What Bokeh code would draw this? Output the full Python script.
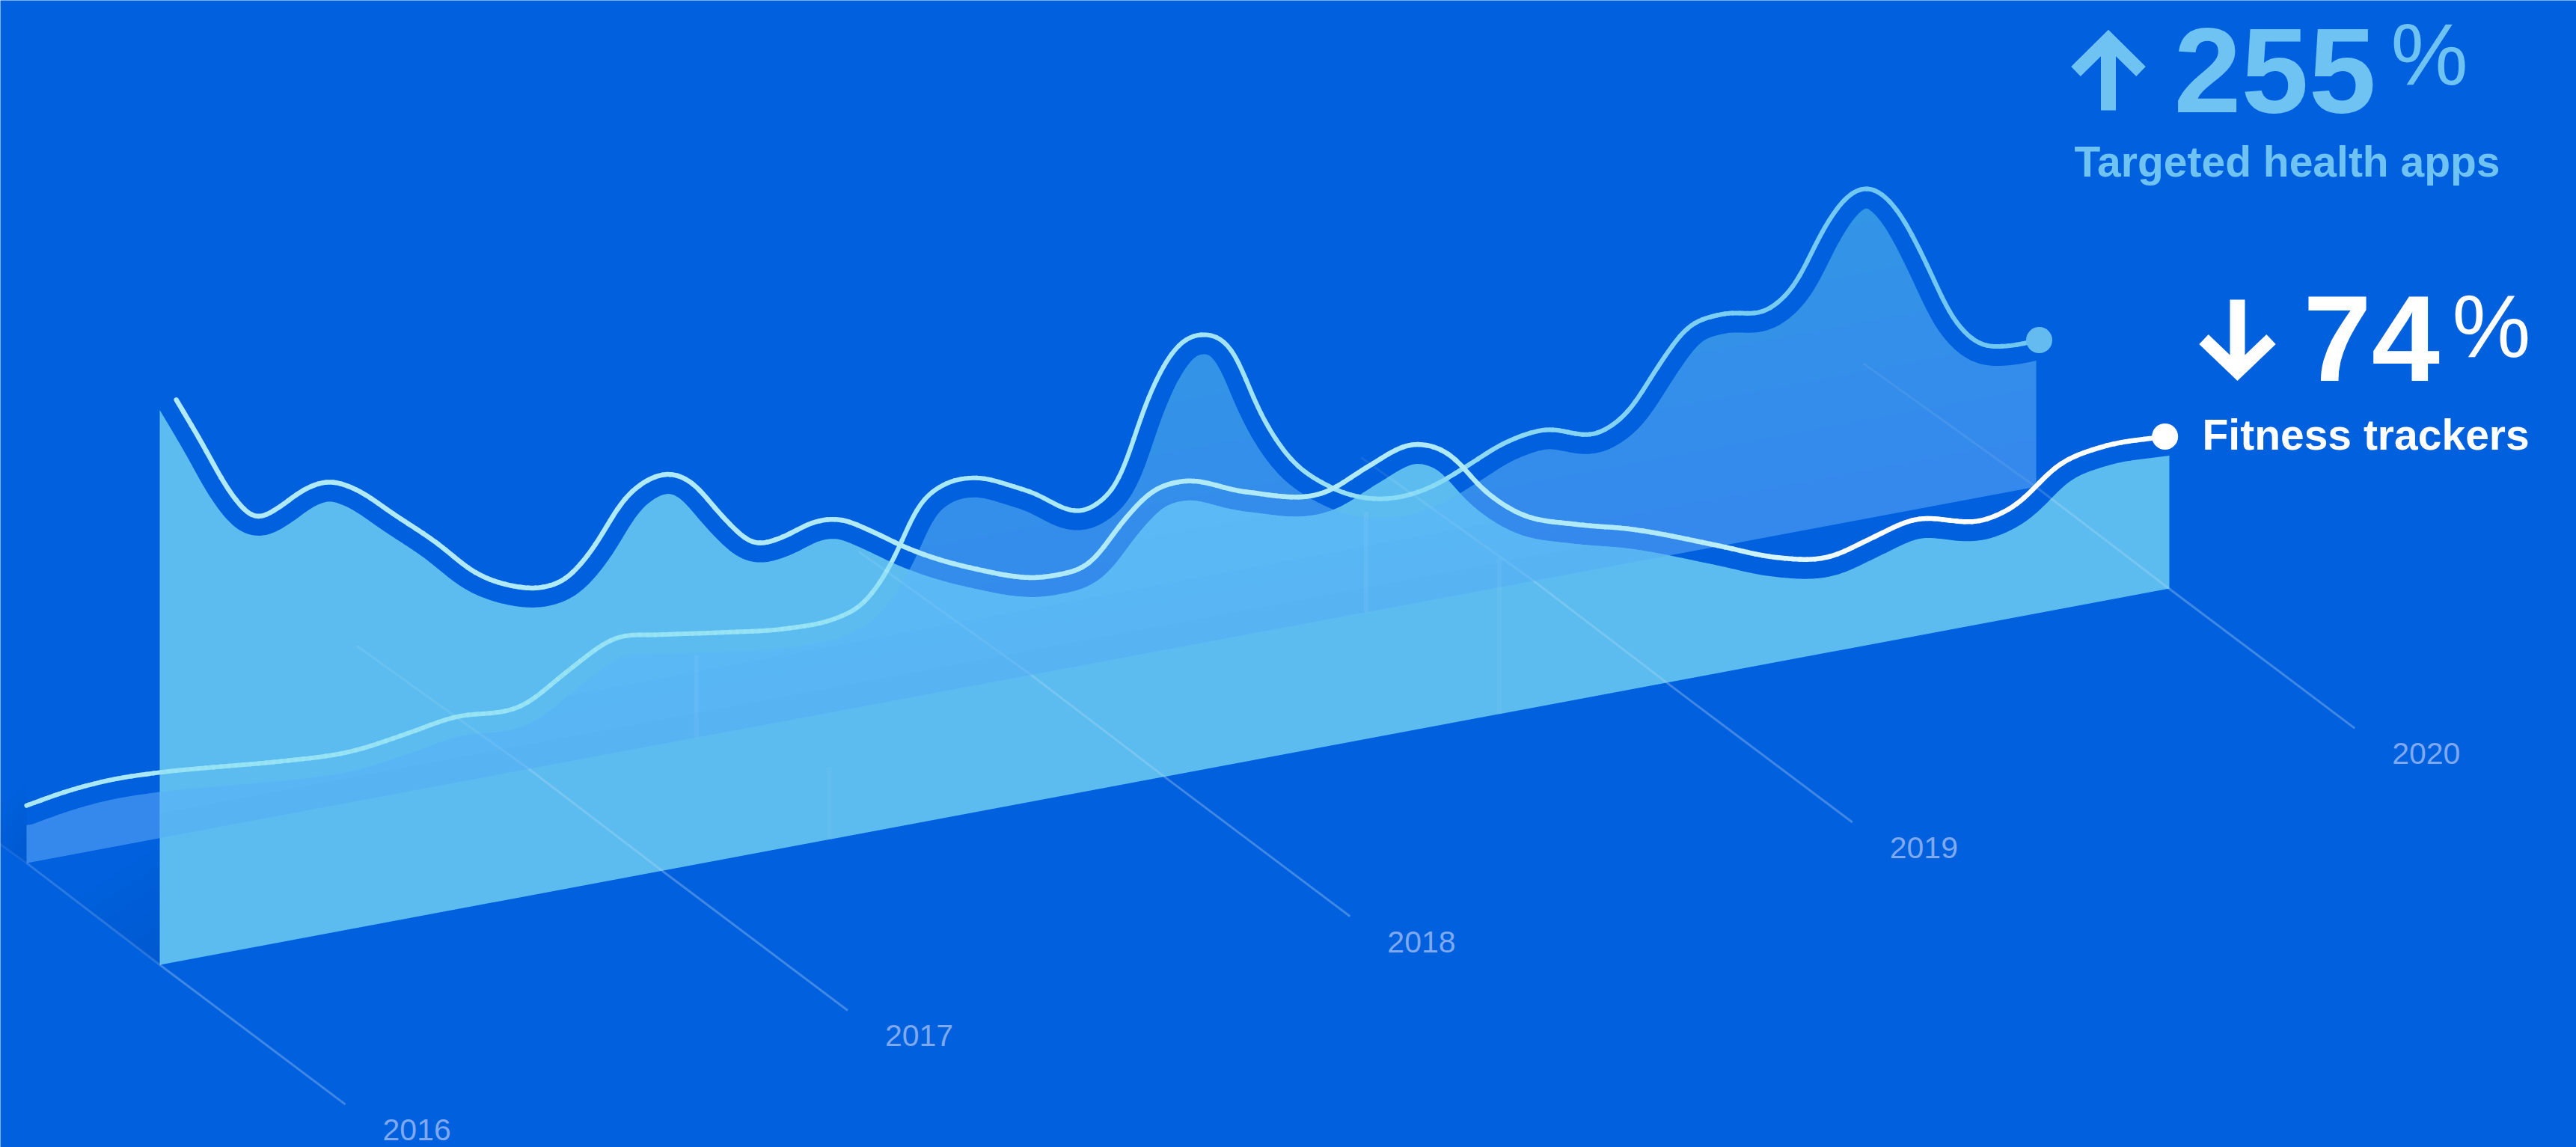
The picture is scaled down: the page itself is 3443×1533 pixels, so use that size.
import numpy as np
from bokeh.core.properties import value
from bokeh.embed import file_html
from bokeh.models import ColumnDataSource, Range1d
from bokeh.plotting import figure
from bokeh.resources import INLINE

# Series: years since 2016 and height above each panel's floor line
fitness_t = [0.033, 0.082, 0.141, 0.190, 0.232, 0.288, 0.337, 0.386, 0.468, 0.549, 0.631, 0.697, 0.762,
             0.811, 0.860, 0.926, 0.975, 1.014, 1.056, 1.122, 1.181, 1.236, 1.302, 1.351, 1.416, 1.485,
             1.616, 1.779, 1.854, 1.920, 1.975, 2.031, 2.162, 2.325, 2.401, 2.499, 2.574, 2.630, 2.705,
             2.816, 2.924, 3.107, 3.215, 3.326, 3.401, 3.486, 3.640, 3.693, 3.781, 3.869, 3.993]
fitness_v = [342, 314, 279, 261, 264, 273, 275, 268, 247, 226, 202, 191, 186,
             189, 203, 231, 240, 241, 234, 208, 189, 189, 195, 194, 183, 169,
             149, 135, 139, 161, 175, 178, 164, 155, 165, 174, 162, 140, 120,
             107, 98, 77, 64, 58, 64, 71, 63, 68, 88, 94, 93]

health_t = [0.000, 0.078, 0.160, 0.265, 0.373, 0.504, 0.651, 0.749, 0.847, 0.994, 1.076, 1.174, 1.256,
            1.387, 1.518, 1.617, 1.663, 1.728, 1.771, 1.826, 1.879, 1.990, 2.121, 2.177, 2.229, 2.285,
            2.341, 2.406, 2.449, 2.504, 2.592, 2.700, 2.798, 2.864, 2.939, 3.018, 3.136, 3.191, 3.247,
            3.303, 3.375, 3.473, 3.519, 3.581, 3.627, 3.669, 3.725, 3.777, 3.833, 3.885, 3.941, 4.006]
health_v = [35, 39, 41, 40, 37, 33, 31, 35, 40, 40, 55, 70, 67,
            61, 56, 57, 62, 87, 114, 126, 127, 113, 95, 110, 153, 182,
            188, 172, 138, 107, 81, 67, 69, 77, 87, 91, 83, 93, 116,
            136, 141, 139, 150, 183, 199, 201, 184, 152, 113, 94, 89, 89]

year_labels = ["2016", "2017", "2018", "2019", "2020"]
divider_t = [4 / 3, 8 / 3]
fitness_divider_v = [44, 95]
health_divider_v = [50, 61]

# Oblique projection shared by both panels
YEAR_DX, YEAR_DY, UNIT = 671.4, -125.7, 2.1958
FRONT = (213.0, 1289.0)
BACK = (35.0, 1153.0)
DEPTH = (113.0, 85.0)
GAP = 26.0

BG = "#0060DD"


def project(origin, t, v=0.0):
    t, v = np.asarray(t, float), np.asarray(v, float)
    return origin[0] + t * YEAR_DX, origin[1] + t * YEAR_DY - v * UNIT


def smooth(x, y, n=12, sigma=10.0, step=2.0):
    # Cubic Hermite path through the read points, eased with a small Gaussian
    x, y = np.asarray(x, float), np.asarray(y, float)
    h = np.diff(x)
    s = np.diff(y) / h
    m = np.zeros_like(x)
    m[1:-1] = (s[:-1] * h[1:] + s[1:] * h[:-1]) / (h[:-1] + h[1:])
    m[0], m[-1] = s[0], s[-1]
    xs, ys = [], []
    for i in range(len(h)):
        u = np.linspace(0, 1, n, endpoint=False)
        xs.append(x[i] + u * h[i])
        ys.append((2*u**3 - 3*u**2 + 1) * y[i] + (u**3 - 2*u**2 + u) * h[i] * m[i]
                  + (-2*u**3 + 3*u**2) * y[i + 1] + (u**3 - u**2) * h[i] * m[i + 1])
    dx = np.append(np.concatenate(xs), x[-1])
    dy = np.append(np.concatenate(ys), y[-1])
    gx = np.arange(x[0], x[-1] + step / 2, step)
    gy = np.interp(gx, dx, dy)
    r = int(3 * sigma / step)
    kern = np.exp(-0.5 * (np.arange(-r, r + 1) * step / sigma) ** 2)
    kern /= kern.sum()
    left = gy[0] + (gy[0] - gy[r:0:-1])
    right = gy[-1] + (gy[-1] - gy[-2:-r - 2:-1])
    return gx, np.convolve(np.concatenate([left, gy, right]), kern, mode="valid")


def lower_edge(lx, ly, gx, r):
    # Lower edge of the gap left under a curve: a disc of radius r swept along it
    out = np.zeros_like(gx)
    for i, g in enumerate(gx):
        d = np.abs(lx - g)
        mask = d < r
        out[i] = np.max(ly[mask] + np.sqrt(r**2 - d[mask]**2)) if mask.any() else np.interp(g, lx, ly) + r
    return out


def mix(c0, c1, f):
    a = np.array(c0) + (np.array(c1) - np.array(c0)) * f
    return "#%02x%02x%02x" % tuple(int(round(q)) for q in a)


def pieces(x, y, size=5):
    return ([x[i:i + size + 1].tolist() for i in range(0, len(x) - 1, size)],
            [y[i:i + size + 1].tolist() for i in range(0, len(y) - 1, size)])


p = figure(width=3443, height=1533, output_backend="svg", toolbar_location=None,
           x_range=Range1d(0, 3443), y_range=Range1d(1533, 0),
           x_axis_location=None, y_axis_location=None,
           background_fill_color=BG, border_fill_color=BG, outline_line_color=None, min_border=0)
p.grid.visible = False

# Soft floor shadows in the corner behind each panel's left edge
for origin, wide, tall in ((FRONT, 115, 160), (BACK, 60, 110)):
    ox, oy = origin
    for k in range(1, 7):
        f = k / 6
        p.patch([ox, ox, ox - wide * f], [oy, oy - tall * f, oy - wide * f * DEPTH[1] / DEPTH[0]],
                fill_color="#003C99", fill_alpha=0.03, line_color=None)

# Back panel: Targeted health apps
hx, hy = project(BACK, health_t, health_v)
hlx, hly = smooth(hx, hy)
back_grid = np.arange(BACK[0], BACK[0] + 4 * YEAR_DX + 0.5, 2.0)
back_top = lower_edge(hlx, hly, back_grid, GAP)
back_floor = BACK[1] + (back_grid - BACK[0]) / YEAR_DX * YEAR_DY
p.varea(back_grid, back_top, back_floor, fill_color="#3689EC")
for level in (30, 60, 90, 120, 150, 180):
    p.varea(back_grid, back_top, np.maximum(back_top, back_floor - level * UNIT),
            fill_color="#3CC8F0", fill_alpha=0.04)

bd_x, bd_y0 = project(BACK, divider_t)
_, bd_y1 = project(BACK, divider_t, health_divider_v)

# Health line, pale on the left and deeper towards its end
seg_x, seg_y = pieces(hlx, hly)
seg_c = [mix((170, 232, 246), (112, 200, 243), min(1, max(0, (xs[0] - 1500) / 1000))) for xs in seg_x]
health_source = ColumnDataSource(dict(x=seg_x, y=seg_y, c=seg_c))
p.multi_line(xs="x", ys="y", line_color="c", line_width=6, line_cap="round", line_join="round",
             source=health_source)

# Front panel: Fitness trackers
fx, fy = project(FRONT, fitness_t, fitness_v)
flx, fly = smooth(fx, fy)
front_grid = np.arange(FRONT[0], FRONT[0] + 4 * YEAR_DX + 0.5, 2.0)
front_top = lower_edge(flx, fly, front_grid, GAP)
front_floor = FRONT[1] + (front_grid - FRONT[0]) / YEAR_DX * YEAR_DY
p.varea(front_grid, front_top, front_floor, fill_color="#7CDBF4", fill_alpha=0.75)

# Where the two panels overlap the tint runs bluer and brightens upwards
shared = front_grid[front_grid <= back_grid[-1]]
shared_top = np.maximum(np.interp(shared, front_grid, front_top), np.interp(shared, back_grid, back_top))
shared_floor = np.interp(shared, back_grid, back_floor)
lower = np.minimum(shared_top, shared_floor)
p.varea(shared, lower, shared_floor, fill_color="#48A4F4", fill_alpha=0.55)
for level in (15, 40, 70, 100):
    p.varea(shared, lower, np.maximum(lower, shared_floor - level * UNIT), fill_color="#6ED4FF", fill_alpha=0.085)

p.segment(bd_x, bd_y0, bd_x, bd_y1, line_color="#FFFFFF", line_alpha=0.06, line_width=6)
fd_x, fd_y0 = project(FRONT, divider_t)
_, fd_y1 = project(FRONT, divider_t, fitness_divider_v)
p.segment(fd_x, fd_y0, fd_x, fd_y1, line_color="#FFFFFF", line_alpha=0.04, line_width=6)

# The health line stays readable through the front panel
p.multi_line(xs="x", ys="y", line_color="c", line_alpha=0.3, line_width=6, line_cap="round", line_join="round",
             source=health_source)

# Fitness line, turning white over its last stretch
seg_x, seg_y = pieces(flx, fly)
seg_c = [mix((176, 234, 248), (255, 255, 255), min(1, max(0, (xs[0] - 2250) / 250))) for xs in seg_x]
p.multi_line(xs="x", ys="y", line_color="c", line_width=6.5, line_cap="round", line_join="round",
             source=ColumnDataSource(dict(x=seg_x, y=seg_y, c=seg_c)))

# Depth lines, one per year, with the label just past the end of each
ticks = np.arange(len(year_labels), dtype=float)
tx, ty = project(FRONT, ticks)
bx, by = project(BACK, ticks)
for x0, y0, x1, y1 in zip(tx, ty, bx, by):
    far_x, far_y = x0 - 186 * UNIT, y0 - 137 * UNIT
    near_x, near_y = x0 + DEPTH[0] * UNIT, y0 + DEPTH[1] * UNIT
    p.line([far_x, x1], [far_y, y1], line_color="#FFFFFF", line_alpha=0.08, line_width=3)
    p.line([x1, x0], [y1, y0], line_color="#FFFFFF", line_alpha=0.16, line_width=3)
    p.line([x0, near_x], [y0, near_y], line_color="#FFFFFF", line_alpha=0.25, line_width=3)
p.text(tx + 156.5 * UNIT, ty + 100.5 * UNIT, text=year_labels, text_color="#7EA9EE",
       text_font=value("Liberation Sans"), text_font_size="41px",
       text_align="center", text_baseline="middle")

# End markers
p.scatter([hlx[-1]], [hly[-1]], size=35, marker="circle", fill_color="#63BBF0", line_color=None)
p.scatter([flx[-1]], [fly[-1]], size=35, marker="circle", fill_color="#FFFFFF", line_color=None)

# Call-outs
SKY = "#6FC3F3"
p.line([2774, 2817.5, 2861], [95, 52, 95], line_color=SKY, line_width=18, line_join="miter")
p.line([2817.5, 2817.5], [58, 147], line_color=SKY, line_width=20)
p.line([2945, 2990, 3035], [453, 496, 453], line_color="#FFFFFF", line_width=18, line_join="miter")
p.line([2990, 2990], [400, 490], line_color="#FFFFFF", line_width=20)

FONT = value("Liberation Sans")
labels = [
    (2905, 93, "255", SKY, "bold", "162px"),
    (3195, 72, "%", SKY, "normal", "116px"),
    (2772, 215, "Targeted health apps", SKY, "bold", "57px"),
    (3078, 452, "74", "#FFFFFF", "bold", "164px"),
    (3277, 435, "%", "#FFFFFF", "normal", "118px"),
    (2943, 580, "Fitness trackers", "#FFFFFF", "bold", "57px"),
]
for lx, ly, txt, colour, style, size in labels:
    p.text([lx], [ly], text=[txt], text_color=colour, text_font=FONT, text_font_style=style,
           text_font_size=size, text_baseline="middle")

open("out.html", "w").write(file_html(p, INLINE))
